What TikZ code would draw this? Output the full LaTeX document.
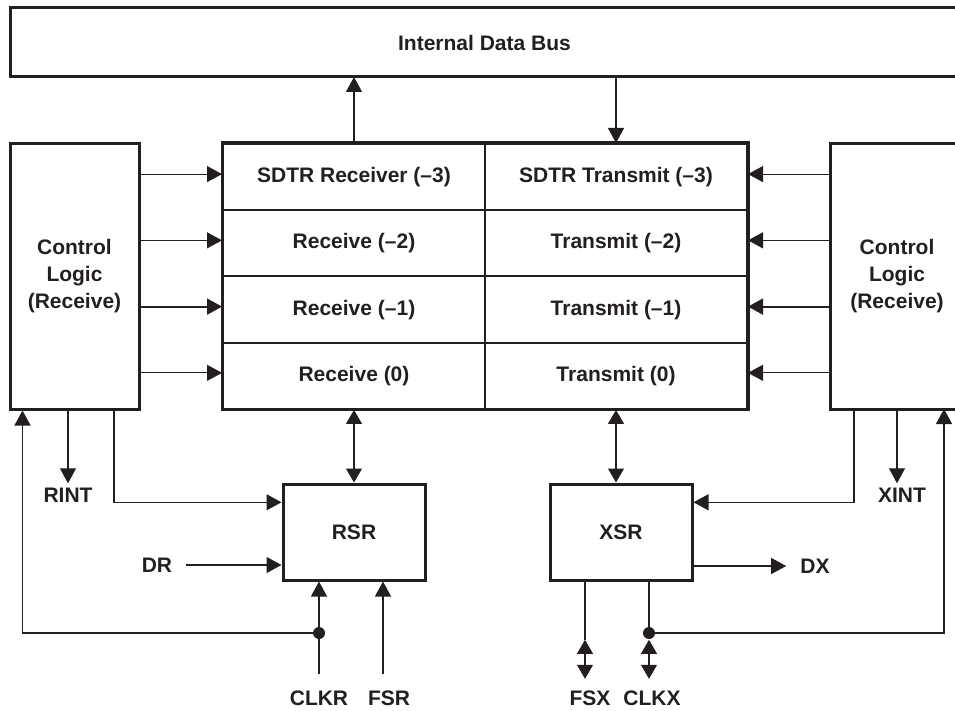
\documentclass[tikz,border=0pt]{standalone}
\usepackage{fontspec}
\setmainfont{Liberation Sans}
\usetikzlibrary{arrows.meta,positioning,calc,fit}
\definecolor{ink}{HTML}{231F20}
\begin{document}
\begin{tikzpicture}[x=1pt, y=-1pt, font=\bfseries\fontsize{21}{27}\selectfont,
    blk/.style={draw=ink, line width=3pt, inner sep=0pt, text=ink, align=center},
    open/.style={blk, draw=none, outer sep=0pt},
    frame/.style={draw=ink, line width=3pt},
    cell/.style={draw=ink, line width=2pt, inner sep=0pt, text=ink, minimum width=262, minimum height=66.25},
    lbl/.style={text=ink, inner sep=4pt, text height=15pt, text depth=0pt},
    sig/.style={draw=ink, line width=1.1pt},
    tip/.style={-{Triangle[length=15pt,width=16pt]}},
    dbl/.style={{Triangle[length=14pt,width=16pt]}-{Triangle[length=14pt,width=16pt]}},
    dot/.style={circle, fill=ink, inner sep=0pt, minimum size=12pt}]
    \useasboundingbox (0,0) rectangle (955,711);
    \clip (0,0) rectangle (955,711);
    % bus and buffer stack
    \node[open, minimum width=949, minimum height=69] (bus) at (484.5,42.5) {Internal Data Bus};
    \draw[frame] (bus.north west) rectangle ([xshift=40pt]bus.south east);
    \foreach \r/\rname/\tname [count=\k from 0] in {3/SDTR Receiver (--3)/SDTR Transmit (--3), 2/Receive (--2)/Transmit (--2), 1/Receive (--1)/Transmit (--1), 0/Receive (0)/Transmit (0)}{
        \node[cell] (rx\r) at (354,{177.1+66.25*\k}) {\rname};
        \node[cell] (tx\r) at (616,{177.1+66.25*\k}) {\tname};
    }
    \node[draw=ink, line width=3pt, inner sep=0pt, fit=(rx3)(tx0)] (buf) {};
    \node[blk, minimum width=129, minimum height=265] (ctlR) at (74.5,276.5) {Control\\Logic\\(Receive)};
    \node[open, minimum width=134, minimum height=265] (ctlX) at (897,276.5) {Control\\Logic\\(Receive)};
    \draw[frame] (ctlX.north west) rectangle ([xshift=40pt]ctlX.south east);
    \node[blk, minimum width=142, minimum height=96] (rsr) at (354,532) {RSR};
    \node[blk, minimum width=142, minimum height=96] (xsr) at (621,532) {XSR};
    % pin labels
    \node[lbl] (rint) at (68,495) {RINT};
    \node[lbl] (xint) at (902,495) {XINT};
    \node[lbl] (dr) at (157,565) {DR};
    \node[lbl] (dx) at (815,566) {DX};
    \node[lbl] (clkr) at (319,698) {CLKR};
    \node[lbl] (fsr) at (389,698) {FSR};
    \node[lbl] (fsx) at (590,698) {FSX};
    \node[lbl] (clkx) at (652,698) {CLKX};
    \coordinate (clkrTop) at ([yshift=12pt]clkr.north);
    \coordinate (fsrTop) at ([xshift=-6pt,yshift=12pt]fsr.north);
    \coordinate (fsxEnd) at ([xshift=-5pt,yshift=7.5pt]fsx.north);
    \coordinate (fsxMid) at ([yshift=39pt]fsxEnd);
    \coordinate (clkxEnd) at ([xshift=-3pt,yshift=7.5pt]clkx.north);
    \coordinate (clkxMid) at ([yshift=39pt]clkxEnd);
    \node[dot] (clkrDot) at (clkrTop |- 0,633) {};
    \node[dot] (clkxDot) at (clkxEnd |- 0,633) {};
    \coordinate (rclkIn) at ([xshift=14pt]ctlR.south west);
    \coordinate (xclkIn) at ([xshift=114pt]ctlX.south west);
    % bus connections
    \draw[sig,tip] (rx3.north) -- (rx3.north |- bus.south);
    \draw[sig,tip] (bus.south -| tx3.north) -- (tx3.north);
    \foreach \r/\w in {3/1.1pt,2/1.1pt,1/2pt,0/1.1pt}{
        \draw[sig,tip,line width=\w] ([yshift=3pt]ctlR.east |- rx\r.west) -- ([yshift=3pt]rx\r.west);
        \draw[sig,tip,line width=\w] ([yshift=3pt]ctlX.west |- tx\r.east) -- ([yshift=3pt]tx\r.east);
    }
    \draw[sig,dbl] (rx0.south) -- (rsr.north);
    \draw[sig,dbl] (tx0.south) -- (tx0.south |- xsr.north);
    % receive side
    \draw[sig,tip] (ctlR.south -| rint) -- (rint.north);
    \draw[sig,tip] ([xshift=39.5pt]ctlR.south) |- ($(rsr.north west)!0.2!(rsr.south west)$);
    \draw[sig,tip] ([xshift=10pt]dr.east) -- (dr.east -| rsr.west);
    \draw[sig,tip] (clkrTop) -- (clkrTop |- rsr.south);
    \draw[sig,tip] (fsrTop) -- (fsrTop |- rsr.south);
    \draw[sig,tip] (clkrDot) -| (rclkIn);
    % transmit side
    \draw[sig,tip] (ctlX.south) -- (ctlX.south |- xint.north);
    \draw[sig,tip] ([xshift=-43pt]ctlX.south) |- ($(xsr.north east)!0.2!(xsr.south east)$);
    \draw[sig,tip] (dx.west -| xsr.east) -- ([xshift=-10pt]dx.west);
    \draw[sig] (fsxEnd |- xsr.south) -- (fsxMid);
    \draw[sig,dbl] (fsxMid) -- (fsxEnd);
    \draw[sig] (clkxEnd |- xsr.south) -- (clkxDot);
    \draw[sig,dbl] (clkxMid) -- (clkxEnd);
    \draw[sig,tip] (clkxDot) -| (xclkIn);
\end{tikzpicture}
\end{document}
